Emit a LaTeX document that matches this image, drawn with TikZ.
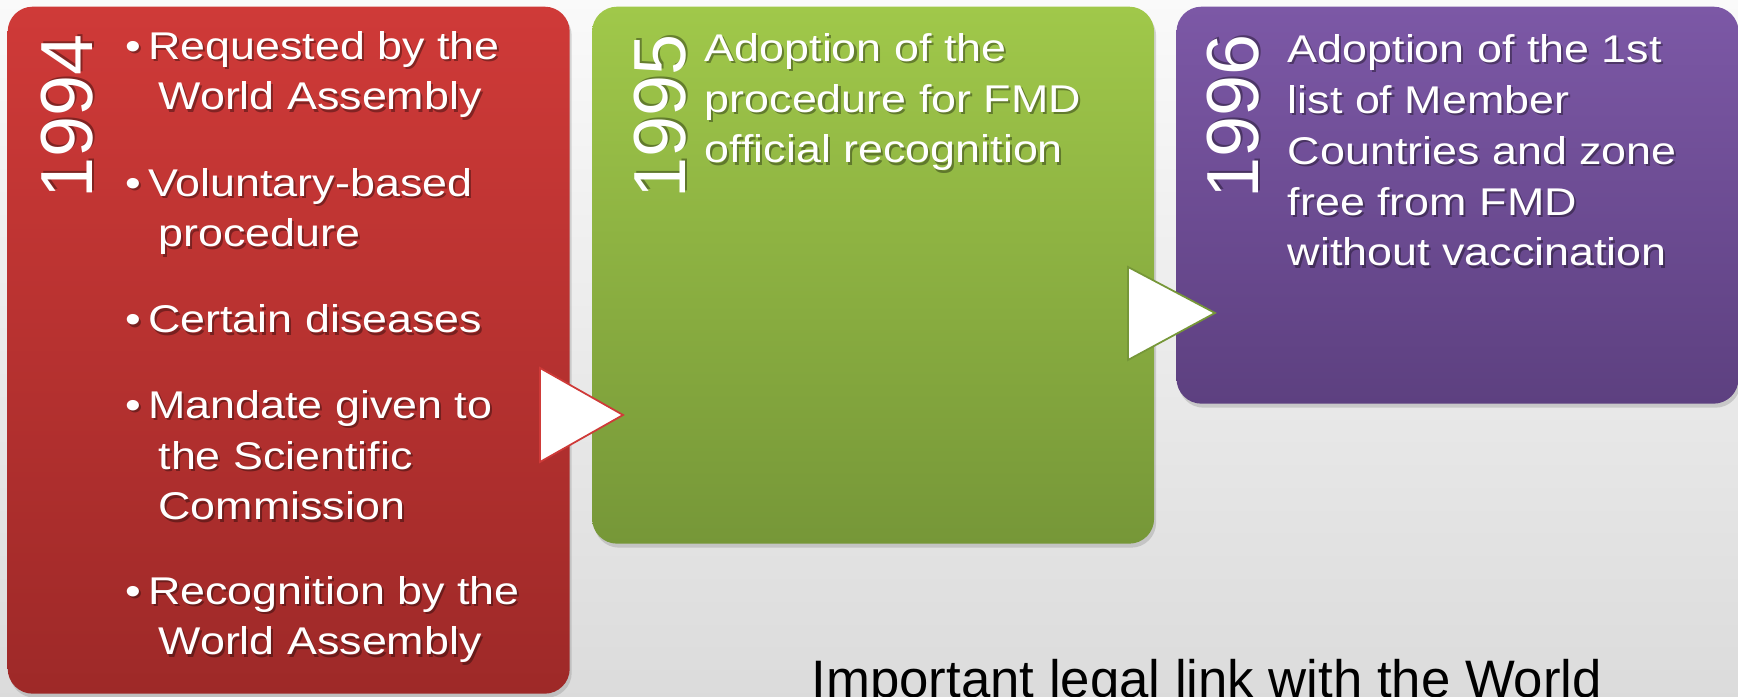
\documentclass[tikz,border=0pt]{standalone}
\usepackage{fontspec}
\setmainfont{Liberation Sans}
\usepackage{tikz}
\usetikzlibrary{positioning}
\usetikzlibrary{shadows}

\definecolor{redtop}{RGB}{207,58,56}
\definecolor{redbot}{RGB}{158,41,40}
\definecolor{greentop}{RGB}{160,200,74}
\definecolor{greenbot}{RGB}{118,151,56}
\definecolor{purpletop}{RGB}{124,88,166}
\definecolor{purplebot}{RGB}{93,64,128}

\tikzset{
    stage/.style={rectangle, rounded corners=0.25cm, minimum width=5.62cm, inner sep=0, anchor=north west,
        drop shadow={opacity=0.3, shadow xshift=0.02cm, shadow yshift=-0.04cm}},
    yr/.style={rotate=90, anchor=base west, inner sep=0, text=white, font=\fontsize{21}{21}\selectfont},
    txt/.style={anchor=base west, inner sep=0, align=left, text=white, xscale=1.16, font=\fontsize{11}{14.5}\selectfont},
    tip/.style={fill=white, line width=0.5pt, line join=miter},
}

% white text with a soft dark shadow
\newcommand{\shtxt}[4]{%
    \node[#1, text=black, text opacity=0.35, xshift=0.5pt, yshift=-0.6pt] (#2s) at #3 {#4};
    \node[#1] (#2) at #3 {#4};
}
\newcommand{\itm}{\makebox[0.5em][l]{\textbullet}}
\newcommand{\ind}{\hspace*{0.73em}}

\begin{document}
\begin{tikzpicture}
    \useasboundingbox (0,0) rectangle (17.38,6.97);
    % sfondo
    \shade[top color=gray!4, bottom color=gray!28] (0,0) rectangle (17.38,6.97);

    % riquadri
    \node[stage, minimum height=6.87cm, top color=redtop, bottom color=redbot] (b94) at (0.07,6.91) {};
    \node[stage, minimum height=5.37cm, top color=greentop, bottom color=greenbot,
        right=0.21cm of b94.north east, anchor=north west] (b95) {};
    \node[stage, minimum height=3.97cm, top color=purpletop, bottom color=purplebot,
        right=0.21cm of b95.north east, anchor=north west] (b96) {};

    % anni
    \shtxt{yr}{y94}{(0.92,4.98)}{1994}
    \shtxt{yr}{y95}{(6.85,4.98)}{1995}
    \shtxt{yr}{y96}{(12.58,4.98)}{1996}

    % 1994 (base = last line)
    \shtxt{txt}{r1}{(1.25,5.87)}{\itm Requested by the\\\ind World Assembly}
    \shtxt{txt}{r2}{(1.25,4.50)}{\itm Voluntary-based\\\ind procedure}
    \shtxt{txt}{r3}{(1.25,3.64)}{\itm Certain diseases}
    \shtxt{txt}{r4}{(1.25,1.77)}{\itm Mandate given to\\\ind the Scientific\\\ind Commission}
    \shtxt{txt}{r5}{(1.25,0.42)}{\itm Recognition by the\\\ind World Assembly}

    % 1995
    \shtxt{txt}{g1}{(7.04,5.34)}{Adoption of the\\procedure for FMD\\official recognition}

    % 1996
    \shtxt{txt}{p1}{(12.87,4.31)}{Adoption of the 1st\\list of Member\\Countries and zone\\free from FMD\\without vaccination}

    % frecce
    \draw[tip, draw=redtop] (5.40,3.29) -- (6.23,2.82) -- (5.40,2.35) -- cycle;
    \draw[tip, draw=greenbot] (11.28,4.30) -- (12.15,3.84) -- (11.28,3.37) -- cycle;

    % testo in basso
    \node[anchor=base west, inner sep=0, font=\fontsize{15}{18}\selectfont] (link) at (8.11,-0.01) {Important legal link with the World};
\end{tikzpicture}
\end{document}
